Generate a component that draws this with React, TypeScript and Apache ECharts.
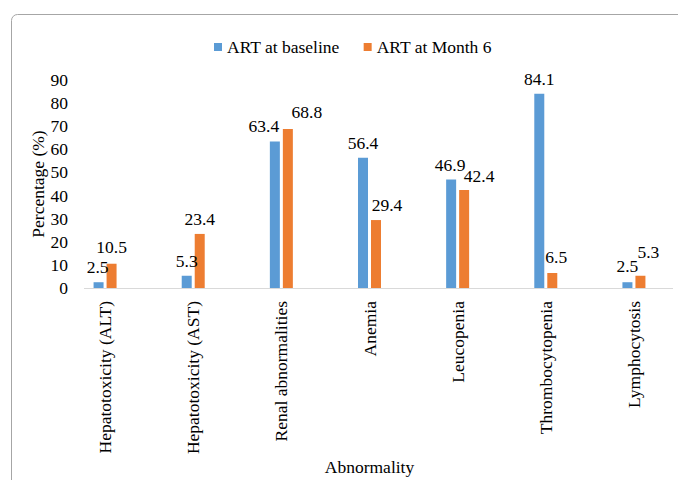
import React, { useEffect, useRef } from "react";
import * as echarts from "echarts";

const categories = [
  "Hepatotoxicity (ALT)",
  "Hepatotoxicity (AST)",
  "Renal abnormalities",
  "Anemia",
  "Leucopenia",
  "Thrombocytopenia",
  "Lymphocytosis",
];
const baseline = [2.5, 5.3, 63.4, 56.4, 46.9, 84.1, 2.5];
const month6 = [10.5, 23.4, 68.8, 29.4, 42.4, 6.5, 5.3];
const yTicks = [0, 10, 20, 30, 40, 50, 60, 70, 80, 90];

// small label nudges imitating the reference's hand-placed data labels
const baselineNudge = [[-1, 0], [0, 0], [-11, 0], [0, 0], [-1, 0], [0, 0], [0, -1]];
const month6Nudge = [[0, -2], [0, 0], [19, -2], [11, 0], [15, 1], [4, -1], [8, -9]];

const FONT = "Times New Roman, Liberation Serif, serif";
const FS = 17.5;

export default function App() {
  const ref = useRef<HTMLDivElement>(null);
  useEffect(() => {
    if (!ref.current) return;
    const chart = echarts.init(ref.current, null, { renderer: "svg" });
    const lbl = {
      show: true,
      position: "top",
      distance: 6,
      fontFamily: FONT,
      fontSize: FS,
      color: "#000",
    };
    const mk = (vals: number[], nudge: number[][]) =>
      vals.map((v, i) => ({ value: v, label: { ...lbl, offset: nudge[i] } }));
    chart.setOption({
      animation: false,
      backgroundColor: "#ffffff",
      textStyle: { fontFamily: FONT, color: "#000" },
      legend: {
        top: 38,
        left: 214,
        padding: 0,
        itemWidth: 8,
        itemHeight: 8,
        itemGap: 24,
        icon: "rect",
        textStyle: { fontFamily: FONT, fontSize: FS, color: "#000" },
        data: ["ART at baseline", "ART at Month 6"],
      },
      grid: { left: 61, top: 80, width: 637, bottom: 192, containLabel: false },
      xAxis: {
        type: "category",
        data: categories,
        axisLine: { show: false },
        axisTick: { show: false },
        axisLabel: {
          rotate: 90,
          margin: 13,
          fontFamily: FONT,
          fontSize: FS,
          color: "#000",
          interval: 0,
        },
        name: "Abnormality",
        nameLocation: "middle",
        nameGap: 170,
        nameMoveOverlap: false,
        nameTextStyle: { fontFamily: FONT, fontSize: FS, color: "#000" },
      },
      yAxis: {
        type: "value",
        min: yTicks[0],
        max: yTicks[yTicks.length - 1],
        interval: 10,
        offset: -23,
        axisLine: { show: false },
        axisTick: { show: false },
        splitLine: { show: false },
        axisLabel: { margin: 16, fontFamily: FONT, fontSize: FS, color: "#000" },
        name: "Percentage (%)",
        nameLocation: "middle",
        nameGap: 37,
        nameMoveOverlap: false,
        nameTextStyle: { fontFamily: FONT, fontSize: FS, color: "#000" },
      },
      graphic: [
        {
          type: "rect",
          shape: { x: 11.5, y: 14.5, width: 700, height: 500, r: 6 },
          style: { fill: "none", stroke: "#a6a6a6", lineWidth: 1 },
          silent: true,
          z: -1,
        },
        {
          type: "line",
          shape: { x1: 84, y1: 288.5, x2: 673, y2: 288.5 },
          style: { stroke: "#d9d9d9", lineWidth: 1 },
          silent: true,
        },
      ],
      series: [
        {
          name: "ART at baseline",
          type: "bar",
          barWidth: 10,
          barGap: "30%",
          itemStyle: { color: "#5b9bd5" },
          label: lbl,
          data: mk(baseline, baselineNudge),
        },
        {
          name: "ART at Month 6",
          type: "bar",
          barWidth: 10,
          barGap: "30%",
          itemStyle: { color: "#ed7d31" },
          label: lbl,
          data: mk(month6, month6Nudge),
        },
      ],
    });
    return () => chart.dispose();
  }, []);
  return (
    <div
      ref={ref}
      style={{ position: "fixed", left: 0, top: 0, width: 678, height: 480 }}
    />
  );
}
